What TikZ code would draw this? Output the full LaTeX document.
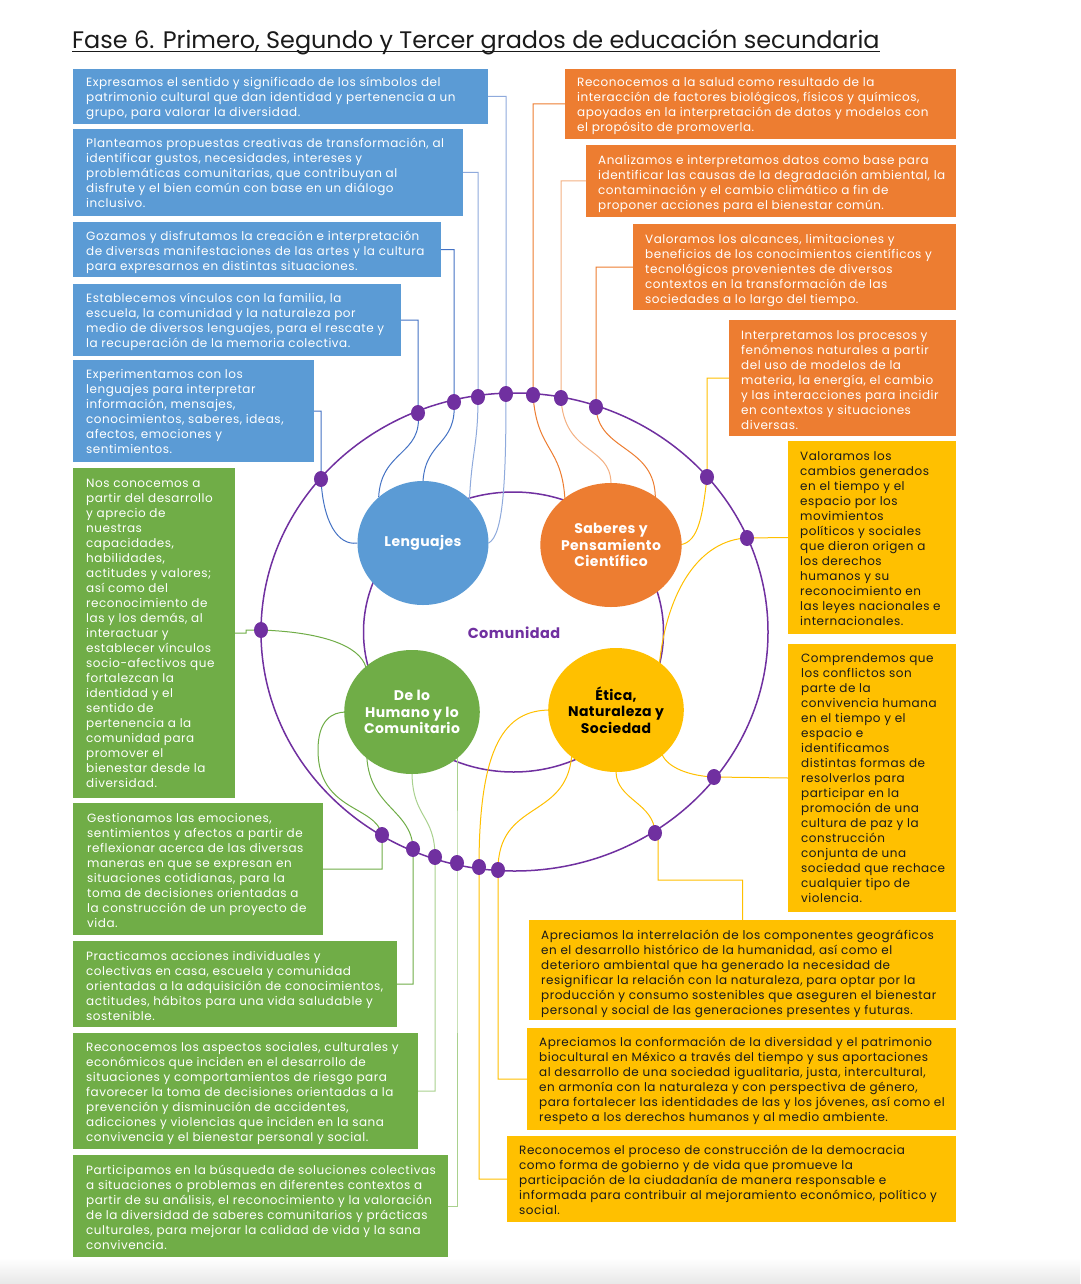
\documentclass[tikz,border=0pt]{standalone}
\usepackage{fontspec}
\setmainfont{Poppins}
\newfontfamily\bodyf{Poppins}[LetterSpace=4.2]
\newfontfamily\labf{Poppins}[LetterSpace=3]
\usetikzlibrary{shapes.geometric,calc}
\definecolor{cblue}{HTML}{5B9BD5}
\definecolor{cgreen}{HTML}{70AD47}
\definecolor{corange}{HTML}{ED7D31}
\definecolor{cyellow}{HTML}{FFC000}
\definecolor{cpurple}{HTML}{7030A0}
\definecolor{lblue}{HTML}{4472C4}
\definecolor{lblueL}{HTML}{8FAADC}
\definecolor{lorangeL}{HTML}{F4B183}
\definecolor{lgreenL}{HTML}{A9D18E}
\definecolor{ink}{HTML}{1A1A1A}
\newcommand{\fstrut}{\rule{0pt}{11pt}}
\begin{document}
\begin{tikzpicture}[x=1pt,y=-1pt,
  box/.style={rectangle,anchor=north west,inner sep=0pt,outer sep=0pt},
  bbox/.style={box,fill=cblue},
  gbox/.style={box,fill=cgreen},
  obox/.style={box,fill=corange},
  ybox/.style={box,fill=cyellow},
  txt/.style={anchor=north west,inner sep=0pt,align=left,font=\bodyf\fontsize{12}{15}\selectfont},
  wtxt/.style={txt,text=white},
  ktxt/.style={txt,text=ink},
  area/.style={ellipse,inner sep=0pt,minimum width=131pt,minimum height=124pt,align=center,font=\labf\fontsize{14}{16.5}\selectfont\bfseries},
  dot/.style={ellipse,fill=cpurple,inner sep=0pt,minimum width=14pt,minimum height=16pt},
  ring/.style={draw=cpurple,line width=1.5pt},
  link/.style={line width=1pt},
]
\useasboundingbox (0,0) rectangle (1080,1284);
\fill[white] (0,0) rectangle (1080,1284);
\shade[top color=white,bottom color=black!9] (0,1258) rectangle (1080,1284);

% title
\node[anchor=base west,inner sep=0pt,text=ink,font=\fontsize{23.9}{28}\selectfont] (title) at (72,48.3) {Fase 6. Primero, Segundo y Tercer grados de educación secundaria};
\draw[ink,line width=1.4pt] ([yshift=-3pt]title.base west) -- ([yshift=-3pt]title.base east);

% blue boxes
\node[bbox,minimum width=415pt,minimum height=55pt] (b1) at (73,69) {};
\node[wtxt] (b1t) at (86,75) {\fstrut Expresamos el sentido y significado de los símbolos del\\patrimonio cultural que dan identidad y pertenencia a un\\grupo, para valorar la diversidad.};
\node[bbox,minimum width=390pt,minimum height=87pt] (b2) at (73,129) {};
\node[wtxt] (b2t) at (86,136) {\fstrut Planteamos propuestas creativas de transformación, al\\identificar gustos, necesidades, intereses y\\problemáticas comunitarias, que contribuyan al\\disfrute y el bien común con base en un diálogo\\inclusivo.};
\node[bbox,minimum width=368pt,minimum height=55pt] (b3) at (73,222) {};
\node[wtxt] (b3t) at (86,229) {\fstrut Gozamos y disfrutamos la creación e interpretación\\de diversas manifestaciones de las artes y la cultura\\para expresarnos en distintas situaciones.};
\node[bbox,minimum width=328pt,minimum height=72pt] (b4) at (73,284) {};
\node[wtxt] (b4t) at (86,291) {\fstrut Establecemos vínculos con la familia, la\\escuela, la comunidad y la naturaleza por\\medio de diversos lenguajes, para el rescate y\\la recuperación de la memoria colectiva.};
\node[bbox,minimum width=241pt,minimum height=102pt] (b5) at (73,360) {};
\node[wtxt] (b5t) at (86,367) {\fstrut Experimentamos con los\\lenguajes para interpretar\\información, mensajes,\\conocimientos, saberes, ideas,\\afectos, emociones y\\sentimientos.};

% green boxes
\node[gbox,minimum width=162pt,minimum height=330pt] (g1) at (73,468) {};
\node[wtxt] (g1t) at (86,476) {\fstrut Nos conocemos a\\partir del desarrollo\\y aprecio de\\nuestras\\capacidades,\\habilidades,\\actitudes y valores;\\así como del\\reconocimiento de\\las y los demás, al\\interactuar y\\establecer vínculos\\socio-afectivos que\\fortalezcan la\\identidad y el\\sentido de\\pertenencia a la\\comunidad para\\promover el\\bienestar desde la\\diversidad.};
\node[gbox,minimum width=250pt,minimum height=132pt] (g2) at (73,803) {};
\node[wtxt] (g2t) at (87,811) {\fstrut Gestionamos las emociones,\\sentimientos y afectos a partir de\\reflexionar acerca de las diversas\\maneras en que se expresan en\\situaciones cotidianas, para la\\toma de decisiones orientadas a\\la construcción de un proyecto de\\vida.};
\node[gbox,minimum width=324pt,minimum height=86pt] (g3) at (73,941) {};
\node[wtxt] (g3t) at (86,949) {\fstrut Practicamos acciones individuales y\\colectivas en casa, escuela y comunidad\\orientadas a la adquisición de conocimientos,\\actitudes, hábitos para una vida saludable y\\sostenible.};
\node[gbox,minimum width=345pt,minimum height=116pt] (g4) at (73,1033) {};
\node[wtxt] (g4t) at (86,1040) {\fstrut Reconocemos los aspectos sociales, culturales y\\económicos que inciden en el desarrollo de\\situaciones y comportamientos de riesgo para\\favorecer la toma de decisiones orientadas a la\\prevención y disminución de accidentes,\\adicciones y violencias que inciden en la sana\\convivencia y el bienestar personal y social.};
\node[gbox,minimum width=375pt,minimum height=102pt] (g5) at (73,1155) {};
\node[wtxt] (g5t) at (86,1163) {\fstrut Participamos en la búsqueda de soluciones colectivas\\a situaciones o problemas en diferentes contextos a\\partir de su análisis, el reconocimiento y la valoración\\de la diversidad de saberes comunitarios y prácticas\\culturales, para mejorar la calidad de vida y la sana\\convivencia.};

% orange boxes
\node[obox,minimum width=391pt,minimum height=70pt] (o1) at (565,69) {};
\node[wtxt] (o1t) at (577,75) {\fstrut Reconocemos a la salud como resultado de la\\interacción de factores biológicos, físicos y químicos,\\apoyados en la interpretación de datos y modelos con\\el propósito de promoverla.};
\node[obox,minimum width=370pt,minimum height=72pt] (o2) at (586,145) {};
\node[wtxt] (o2t) at (598,153) {\fstrut Analizamos e interpretamos datos como base para\\identificar las causas de la degradación ambiental, la\\contaminación y el cambio climático a fin de\\proponer acciones para el bienestar común.};
\node[obox,minimum width=323pt,minimum height=86pt] (o3) at (633,224) {};
\node[wtxt] (o3t) at (645,232) {\fstrut Valoramos los alcances, limitaciones y\\beneficios de los conocimientos científicos y\\tecnológicos provenientes de diversos\\contextos en la transformación de las\\sociedades a lo largo del tiempo.};
\node[obox,minimum width=227pt,minimum height=116pt] (o4) at (729,320) {};
\node[wtxt] (o4t) at (741,328) {\fstrut Interpretamos los procesos y\\fenómenos naturales a partir\\del uso de modelos de la\\materia, la energía, el cambio\\y las interacciones para incidir\\en contextos y situaciones\\diversas.};

% yellow boxes
\node[ybox,minimum width=168pt,minimum height=193pt] (y1) at (788,441) {};
\node[ktxt] (y1t) at (800,449) {\fstrut Valoramos los\\cambios generados\\en el tiempo y el\\espacio por los\\movimientos\\políticos y sociales\\que dieron origen a\\los derechos\\humanos y su\\reconocimiento en\\las leyes nacionales e\\internacionales.};
\node[ybox,minimum width=168pt,minimum height=268pt] (y2) at (788,644) {};
\node[ktxt] (y2t) at (801,651) {\fstrut Comprendemos que\\los conflictos son\\parte de la\\convivencia humana\\en el tiempo y el\\espacio e\\identificamos\\distintas formas de\\resolverlos para\\participar en la\\promoción de una\\cultura de paz y la\\construcción\\conjunta de una\\sociedad que rechace\\cualquier tipo de\\violencia.};
\node[ybox,minimum width=427pt,minimum height=100pt] (y3) at (529,920) {};
\node[ktxt] (y3t) at (541,928) {\fstrut Apreciamos la interrelación de los componentes geográficos\\en el desarrollo histórico de la humanidad, así como el\\deterioro ambiental que ha generado la necesidad de\\resignificar la relación con la naturaleza, para optar por la\\producción y consumo sostenibles que aseguren el bienestar\\personal y social de las generaciones presentes y futuras.};
\node[ybox,minimum width=429pt,minimum height=102pt] (y4) at (527,1028) {};
\node[ktxt] (y4t) at (539,1035) {\fstrut Apreciamos la conformación de la diversidad y el patrimonio\\biocultural en México a través del tiempo y sus aportaciones\\al desarrollo de una sociedad igualitaria, justa, intercultural,\\en armonía con la naturaleza y con perspectiva de género,\\para fortalecer las identidades de las y los jóvenes, así como el\\respeto a los derechos humanos y al medio ambiente.};
\node[ybox,minimum width=449pt,minimum height=86pt] (y5) at (507,1136) {};
\node[ktxt] (y5t) at (519,1143) {\fstrut Reconocemos el proceso de construcción de la democracia\\como forma de gobierno y de vida que promueve la\\participación de la ciudadanía de manera responsable e\\informada para contribuir al mejoramiento económico, político y\\social.};

% rings
\draw[ring] (514.5,632) ellipse [x radius=253.5pt, y radius=239pt];
\draw[ring] (513.5,632) ellipse [x radius=150pt, y radius=140pt];
\node[text=cpurple,font=\labf\fontsize{14.5}{16}\selectfont\bfseries,inner sep=0pt] (com) at (514,633) {Comunidad};

% dot positions
\coordinate (p1) at (506,394);
\coordinate (p2) at (478,397);
\coordinate (p3) at (454,402);
\coordinate (p4) at (418,413);
\coordinate (p5) at (321,479);
\coordinate (p6) at (533,395);
\coordinate (p7) at (561,398);
\coordinate (p8) at (596,407);
\coordinate (p9) at (707,477);
\coordinate (p10) at (747,538);
\coordinate (p11) at (714,777);
\coordinate (p12) at (655,833);
\coordinate (p13) at (498,870);
\coordinate (p14) at (479,867);
\coordinate (p15) at (261,630);
\coordinate (p16) at (382,835);
\coordinate (p17) at (413,849);
\coordinate (p18) at (435,857);
\coordinate (p19) at (457,863);
\coordinate (y3k) at (658,880);

% area circles (anchors)
\path (423,543) node[area] (lang) {}
      (611,545) node[area] (sab) {}
      (412,712) node[area] (hum) {}
      (616,710) node[area] (eti) {};

% connectors
\draw[link,lblueL] (b1.east) -| (p1) .. controls (506,485) and (503,535) .. (lang.east);
\draw[link,lblueL] (b2.east) -| (p2) .. controls (478,445) and (472,450) .. (lang.north east);
\draw[link,lblue] (b3.east) -| (p3) .. controls (457,445) and (426,440) .. (lang.north);
\draw[link,lblue] (b4.east) -| (p4) .. controls (423,455) and (381,450) .. (lang.134);
\draw[link,lblue] (b5.east) -| (p5) .. controls (323,522) and (338,546) .. (lang.west);

\draw[link,corange] (o1.west) -| (p6) .. controls (537,452) and (562,445) .. (sab.136);
\draw[link,lorangeL] (o2.west) -| (p7) .. controls (564,455) and (610,445) .. (sab.north);
\draw[link,corange] (o3.west) -| (p8) .. controls (598,452) and (656,445) .. (sab.46);
\draw[link,cyellow] (o4.west) -| (p9) .. controls (702,522) and (697,545) .. (sab.east);

\draw[link,cyellow] (y1.west) -- (p10) .. controls (700,540) and (667,590) .. (eti.47);
\draw[link,cyellow] (y2.west) -- (p11) .. controls (690,776) and (668,768) .. (eti.-44);
\draw[link,cyellow] (y3.north) |- (y3k) |- (p12) .. controls (654,803) and (617,800) .. (eti.south);
\draw[link,cyellow] (y4.west) -| (p13) .. controls (498,800) and (566,820) .. (eti.226);
\draw[link,cyellow] (y5.west) -| (p14) .. controls (479,745) and (505,710) .. (eti.west);

\draw[link,cgreen] (g1.east) -- ++(11,0) |- (p15) .. controls (320,632) and (360,645) .. (hum.136);
\draw[link,cgreen] (g2.east) -| (p16) .. controls (376,805) and (318,812) .. (318,750) .. controls (318,720) and (332,712) .. (hum.west);
\draw[link,cgreen] (g3.east) -| (p17) .. controls (412,810) and (370,808) .. (hum.225);
\draw[link,lgreenL] (g4.east) -| (p18) .. controls (435,815) and (413,818) .. (hum.south);
\draw[link,lgreenL] (g5.east) -| (p19) -- (p19 |- hum.-45);

% area circles drawn on top
\node[area,fill=cblue,text=white] (langF) at (lang) {Lenguajes};
\node[area,fill=corange,text=white] (sabF) at (sab) {Saberes y\\Pensamiento\\Científico};
\node[area,fill=cgreen,text=white] (humF) at (hum) {De lo\\Humano y lo\\Comunitario};
\node[area,fill=cyellow,text=black] (etiF) at (eti) {Ética,\\Naturaleza y\\Sociedad};

% dots
\foreach \i in {1,...,19} { \node[dot] (d\i) at (p\i) {}; }
\end{tikzpicture}
\end{document}
